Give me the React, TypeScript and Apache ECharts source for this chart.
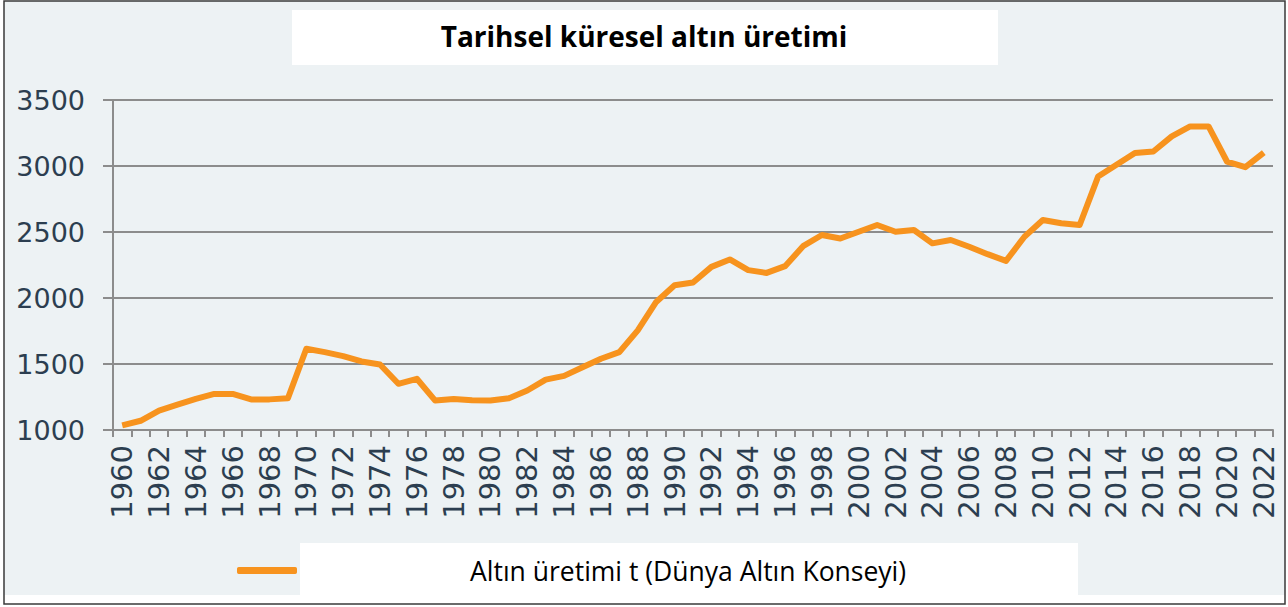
import React, { useEffect, useRef } from "react";
import * as echarts from "echarts";

const years: string[] = [];
for (let y = 1960; y <= 2022; y++) years.push(String(y));

const production: number[] = [
  1035, 1070, 1147, 1192, 1235, 1273, 1273, 1232, 1232, 1240,
  1615, 1590, 1560, 1519, 1496, 1350, 1388, 1223, 1235, 1225,
  1223, 1240, 1299, 1382, 1410, 1475, 1540, 1590, 1755, 1970,
  2097, 2117, 2236, 2292, 2211, 2190, 2241, 2395, 2477, 2451,
  2502, 2553, 2502, 2515, 2414, 2439, 2388, 2332, 2281, 2464,
  2591, 2566, 2553, 2920, 3009, 3098, 3110, 3224, 3300, 3300,
  3034, 2991, 3102,
];

const titleText = "Tarihsel küresel altın üretimi";
const seriesName = "Altın üretimi t (Dünya Altın Konseyi)";

export default function App() {
  const ref = useRef<HTMLDivElement>(null);
  useEffect(() => {
    document.body.style.margin = "0";
    const chart = echarts.init(ref.current!, undefined, { renderer: "svg" });
    const gray = "#8c8c8c";
    chart.setOption({
      animation: false,
      backgroundColor: "#ffffff",
      graphic: [
        { type: "rect", z: -10, silent: true, shape: { x: 4, y: 1, width: 1281, height: 594 }, style: { fill: "#edf2f4" } },
        { type: "rect", z: -5, silent: true, shape: { x: 292, y: 10, width: 706, height: 55 }, style: { fill: "#ffffff" } },
        { type: "rect", z: -5, silent: true, shape: { x: 300, y: 543, width: 778, height: 52 }, style: { fill: "#ffffff" } },
        { type: "rect", z: 100, silent: true, shape: { x: 4, y: 1, width: 1281, height: 603 }, style: { fill: "none", stroke: "#3a3a3a", lineWidth: 1.5 } },
      ],
      title: {
        text: titleText,
        left: "center",
        top: 17,
        textStyle: { fontFamily: "Open Sans", fontWeight: "bold", fontSize: 28, color: "#000000" },
      },
      legend: {
        left: 232,
        top: 552,
        icon: "roundRect",
        itemWidth: 60,
        itemHeight: 7,
        data: [seriesName],
        textStyle: { fontFamily: "Open Sans", fontSize: 26.5, color: "#000000", padding: [0, 0, 0, 168] },
      },
      grid: { left: 113, right: 15, top: 100, bottom: 177, containLabel: false },
      xAxis: {
        type: "category",
        data: years,
        boundaryGap: true,
        axisLine: { lineStyle: { color: gray, width: 2 } },
        axisTick: { show: true, interval: 0, length: 7, lineStyle: { color: gray, width: 2 } },
        axisLabel: {
          interval: 1,
          rotate: 90,
          margin: 15,
          fontFamily: "DejaVu Sans",
          fontSize: 29,
          color: "#2c3e50",
        },
      },
      yAxis: {
        type: "value",
        min: 1000,
        max: 3500,
        interval: 500,
        axisLine: { show: true, lineStyle: { color: gray, width: 2 } },
        axisTick: { show: true, length: 10, lineStyle: { color: gray, width: 2 } },
        splitLine: { lineStyle: { color: gray, width: 2 } },
        axisLabel: {
          margin: 28,
          fontFamily: "DejaVu Sans",
          fontSize: 27,
          color: "#2c3e50",
          formatter: (v: number) => String(v),
        },
      },
      series: [
        {
          name: seriesName,
          type: "line",
          data: production,
          showSymbol: false,
          symbol: "none",
          lineStyle: { color: "#f7931e", width: 6, join: "round" },
          itemStyle: { color: "#f7931e" },
        },
      ],
    });
    return () => chart.dispose();
  }, []);
  return <div ref={ref} style={{ width: 1288, height: 607 }} />;
}
